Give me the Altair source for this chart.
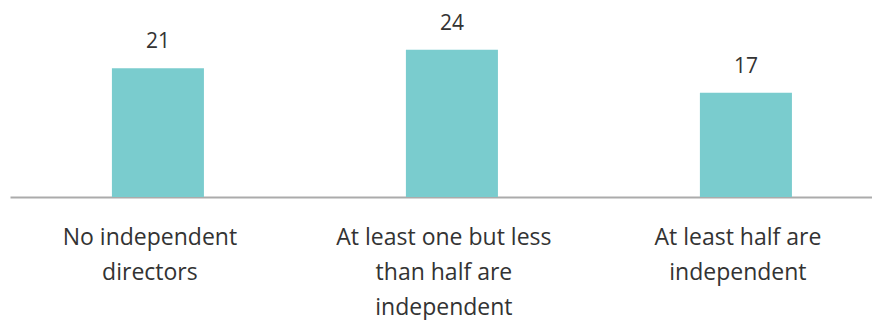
import altair as alt
import pandas as pd

categories = ["No independent|directors", "At least one but less|than half are|independent", "At least half are|independent"]
values = [21, 24, 17]

df = pd.DataFrame({"cat": categories, "val": values})

FONT = "Open Sans"
TEXT = "#333333"

x = alt.X("cat:N", sort=categories, title=None,
          scale=alt.Scale(paddingInner=0.687, paddingOuter=0.3095, align=0.56),
          axis=alt.Axis(labelAngle=0, ticks=False, domain=True, domainColor="#ababab", domainWidth=2,
                        labelExpr="split(datum.label, '|')", labelFont=FONT, labelFontSize=23,
                        labelColor=TEXT, labelLineHeight=35, labelPadding=47, labelBaseline="alphabetic",
                        labelOffset=-8, labelLimit=400))
y = alt.Y("val:Q", scale=alt.Scale(domain=[0, 30]), axis=None)

bars = alt.Chart(df).mark_bar(color="#7ACCCE").encode(x=x, y=y)
labels = alt.Chart(df).mark_text(baseline="alphabetic", dy=-20, font=FONT, fontSize=21, color=TEXT).encode(
    x=alt.X("cat:N", sort=categories), y="val:Q", text="val:Q")

chart = (bars + labels).properties(
    width=862, height=184,
    autosize=alt.AutoSizeParams(type="none"),
    padding={"left": 2, "top": 5, "right": 0, "bottom": 130},
).configure_view(stroke=None)

chart.save("out.html", embed_options={"renderer": "svg", "actions": False})
